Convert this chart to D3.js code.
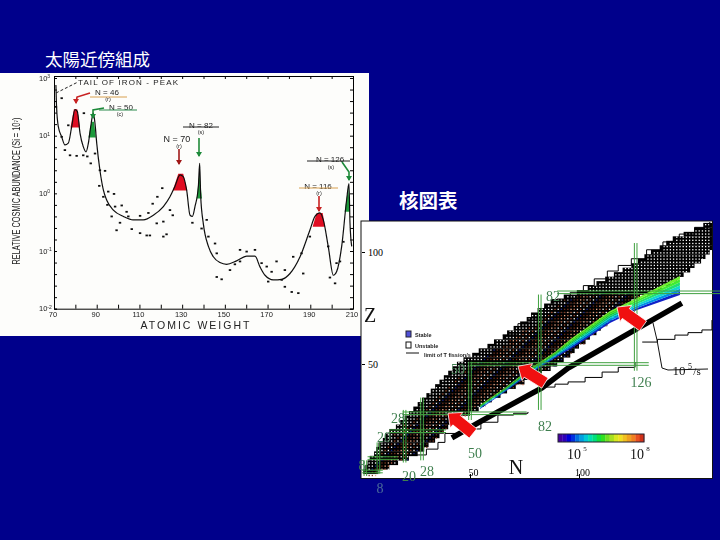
<!DOCTYPE html>
<meta charset="utf-8" />
<script src="https://d3js.org/d3.v7.min.js"></script>
<style>
  body { margin: 0; background: #00008b; overflow: hidden; }
  svg { display: block; }
  .mono { font-family: "Liberation Sans", sans-serif; fill: #222; }
  .serif { font-family: "Liberation Serif", serif; }
  .magic { font-family: "Liberation Serif", serif; font-size: 14px; fill: #3f7f4f; text-anchor: middle; }
</style>
<svg width="720" height="540"></svg>
<script>
  // abundance curve: atomic weight, log10 abundance
  var curveA = [70.9,71.2,72,73.6,75.1,76.7,78.3,79.8,80.9,82.2,83.7,85,86.1,87.2,88.4,89.2,90,91.5,93.1,94.7,97.8,102.5,107.1,111.8,116.5,121.2,124.3,126.6,129,130.5,132.1,133.7,134.8,136,137.6,138.2,138.7,139.9,142.3,144.6,147.7,150.8,155.5,160.2,164.1,166.4,168.8,172.7,176.6,180.5,185.2,189.8,192.2,194.5,196.1,198.4,200.8,202.3,204.7,207,208.1,208.6,209.4];
  var curveLog = [1.88,1.5,1.16,0.98,0.84,0.87,1.16,1.45,1.42,1.04,0.81,0.72,0.87,1.16,1.39,1.21,0.87,0.4,0.06,-0.12,-0.29,-0.4,-0.46,-0.46,-0.38,-0.23,-0.06,0.12,0.32,0.29,0.06,-0.38,-0.4,-0.23,0.12,0.52,-0.06,-0.52,-0.92,-1.1,-1.2,-1.23,-1.17,-1.09,-1.09,-1.27,-1.42,-1.5,-1.49,-1.39,-1.1,-0.64,-0.4,-0.34,-0.46,-0.92,-1.42,-1.36,-0.92,-0.12,0.17,-0.52,-0.92];
  var dotA = [70.9,73.6,76.7,84,73.6,75.1,77.5,80.6,83.7,85.6,87.2,89.2,91.5,93.9,91.2,93.1,95.4,98.1,95,98.6,101.7,104,97,100.9,104.8,99.3,106.4,110.3,113.4,114.9,121.2,122.7,110.3,114.2,116.2,118.4,120.7,118.1,121.2,124.3,125.6,134.8,141.5,139.1,142.3,145.4,146.2,146.2,148.5,152.4,154.7,157.1,157.1,160.2,164.1,167.2,169.6,171.9,174.2,170.3,176.6,178.1,182,185.9,186.7,178.1,181.3,184.4,189.8,198.4,199.2,201.6,202.3,203.9,205.5];
  var dotLog = [1.5,1.65,1.18,1.39,0.98,0.75,0.66,0.65,0.66,0.64,0.52,0.69,0.4,0.39,0.13,-0.06,0.03,-0.01,-0.2,-0.23,-0.21,-0.32,-0.4,-0.51,-0.4,-0.64,-0.62,-0.69,-0.73,-0.73,-0.75,-0.71,-0.39,-0.34,-0.18,-0.06,0.09,-0.52,-0.49,-0.29,-0.38,-0.51,-0.46,-0.61,-0.75,-0.87,-1.04,-1.45,-1.49,-1.33,-1.23,-1.18,-0.98,-1.01,-0.98,-1.21,-1.27,-1.36,-1.18,-1.53,-1.5,-1.33,-1.1,-1.04,-1.39,-1.62,-1.71,-1.73,-0.75,-0.92,-1.46,-1.56,-1.21,-1.18,-0.84];
  var peakColor = ["#e01020","#1f9a3a","#e01020","#1f9a3a","#e01020","#1f9a3a"];
  var peakA = [[77.7,79.3,80.9,82.2],[86.1,87.6,88.7,89.6],[125.6,128.2,130.5,132.4],[136.8,138,138,139.3],[191.1,193,195.8,196.9],[206.1,207.8,207.8,208.6]];
  var peakLog = [[1.14,1.46],[0.97,1.24],[0.05,0.34],[-0.09,0.35],[-0.58,-0.34],[-0.32,0.12]];
  var xTicks = [70,90,110,130,150,170,190,210];
  var yTickLogs = [2,1,0,-1,-2];
  var yTickSups = ["3","1","0","-1","-2"];

  // nuclide chart: proton number rows with first and last neutron number
  var rowZ = d3.range(2, 115, 2);
  var rowNLow = [1,2,3,4,6,7,8,10,11,13,16,18,20,22,24,26,28,30,32,34,36,38,40,42,44,47,51,54,58,61,65,67,70,73,76,78,81,84,87,93,99,104,108,112,116,120,124,127,130,133,137,140,143,148,153,157,161];
  var rowNHigh = [8,13,17,22,26,29,31,34,36,38,40,43,46,50,54,57,60,64,67,71,75,79,83,87,90,93,96,98,100,103,105,108,110,113,115,118,120,122,124,128,133,138,142,145,148,151,153,156,158,160,161,161,161,161,161,161,161];
  var stripN = [54.6,66,76.6,89,96.8,104,114.2,126.6,146.3];
  var stripZLow = [29.9,37.5,45,52.7,57.1,61.6,68.3,74.1,80.8];
  var stripZHigh = [31.7,39.3,47.3,55.4,61.6,66.5,73.7,79.5,89.3];
  var stripColors = ["#1020c8","#0090e8","#10d8d0","#20e070","#40ec30","#70f030"];
  var limitN = [41.7,53.7,62.8,83,95,125.7,147.2];
  var limitZ = [17,23.7,28.6,39.3,48.2,65.2,77.2];
  var stairs = [
    [[65,63],[72,68],[77.5,70.5],[84,75],[90,79],[96,82],[102,85],[107,88],[113,91.5],[118,94],[124,97],[131,101],[138.5,104.5],[146,108],[153,111],[160,114]],
    [[23.9,9.4],[30,12],[35.3,15],[38.5,19],[46,21],[55,24],[62.8,27.2],[70,28],[76.6,28.6]],
    [[83,39.7],[89,41],[95,42],[102.8,44],[110.6,46.4],[118,48.5],[125.7,50.9]],
    [[129,59.8],[136,61],[144,62.9],[150,64],[156.4,65.2],[161,69.6]]
  ];
  var magicZ = [82,50,28,20,8,2];
  var magicZFrom = [90,50,19,13,3,0.5];
  var magicZTo = [165,132,76,39,17,10];
  var magicN = [126,82,50,28,20,8,2];
  var magicNFrom = [47,29.5,25,7,6,1,0];
  var magicNTo = [104,81,51,35,29.5,15,7];
  var colorbar = ["#4400a0","#3000b8","#0000d8","#0030e0","#0070e0","#00a0e0","#00c8d8","#00e0b0","#00e080","#10e040","#30e020","#70e020","#a8e020","#d8e820","#f0e020","#f0c020","#f0a020","#f08020","#e85020","#d03018"];
  var zTicks = [100,50];
  var nTicks = [50,100];

  var svg = d3.select("svg");
  var defs = svg.append("defs");
  defs.append("filter").attr("id", "soft").append("feGaussianBlur").attr("stdDeviation", 0.45);
  defs.append("clipPath").attr("id", "panel").append("rect").attr("x", 362).attr("y", 222).attr("width", 350).attr("height", 256);

  svg.append("text").attr("x", 45).attr("y", 66).attr("fill", "#fff")
    .style("font", "17.5px 'Noto Sans CJK JP'").text("太陽近傍組成");
  svg.append("text").attr("x", 399).attr("y", 208).attr("fill", "#fff")
    .style("font", "bold 19.5px 'Noto Sans CJK JP'").text("核図表");

  // ---- left chart ----
  svg.append("rect").attr("x", 0).attr("y", 73).attr("width", 369).attr("height", 263).attr("fill", "#fdfdfb");
  var g = svg.append("g").attr("filter", "url(#soft)");
  var x = d3.scaleLinear().domain([70, 210]).range([54, 353]);
  var y = d3.scaleLinear().domain([-2, 2]).range([308.7, 78]);

  var minorX = d3.range(70, 211, 10);
  g.append("g").attr("transform", "translate(0,308.7)").call(d3.axisBottom(x).tickValues(minorX).tickSize(-4).tickFormat(""));
  g.append("g").attr("transform", "translate(0,76)").call(d3.axisTop(x).tickValues(minorX).tickSize(-3).tickFormat(""));
  var minorY = d3.range(-2, 2.01, 0.2);
  g.append("g").attr("transform", "translate(54,0)").call(d3.axisLeft(y).tickValues(minorY).tickSize(-3).tickFormat(""));
  g.append("g").attr("transform", "translate(353,0)").call(d3.axisRight(y).tickValues(minorY).tickSize(-3).tickFormat(""));

  g.selectAll(".xt").data(xTicks).enter().append("text").attr("class", "mono")
    .attr("x", function (d) { return x(d) - 1; }).attr("y", 317).attr("text-anchor", "middle")
    .style("font-size", "7.5px").text(function (d) { return d; });
  var yt = g.selectAll(".yt").data(yTickLogs).enter().append("text").attr("class", "mono")
    .attr("x", 39).attr("y", function (d) { return y(d) + 2.5; }).style("font-size", "7.5px");
  yt.append("tspan").text("10");
  yt.append("tspan").attr("dy", -2.5).style("font-size", "5px").text(function (d, i) { return yTickSups[i]; });

  g.append("text").attr("class", "mono").attr("x", 195).attr("y", 329).attr("text-anchor", "middle")
    .attr("textLength", 109).style("font-size", "10.5px").text("ATOMIC WEIGHT");
  g.append("text").attr("class", "mono").attr("transform", "translate(20,191) rotate(-90)")
    .attr("text-anchor", "middle").attr("textLength", 147).attr("lengthAdjust", "spacingAndGlyphs")
    .style("font-size", "10px").text("RELATIVE COSMIC ABUNDANCE (Si = 10⁷)");

  peakA.forEach(function (a, i) {
    var pts = [[a[0], peakLog[i][0]], [a[1], peakLog[i][1]], [a[2], peakLog[i][1]], [a[3], peakLog[i][0]]];
    g.append("polygon").attr("fill", peakColor[i])
      .attr("points", pts.map(function (p) { return [x(p[0]), y(p[1])].join(","); }).join(" "));
  });

  var curve = d3.line().x(function (d) { return x(d[0]); }).y(function (d) { return y(d[1]); }).curve(d3.curveMonotoneX);
  g.append("path").datum(d3.zip(curveA, curveLog)).attr("d", curve).attr("fill", "none").attr("stroke", "#111").attr("stroke-width", 1.2);
  g.selectAll(".dot").data(d3.zip(dotA, dotLog)).enter().append("rect").attr("class", "dot")
    .attr("x", function (d) { return x(d[0]) - 1.2; }).attr("y", function (d) { return y(d[1]) - 0.9; })
    .attr("width", 2.4).attr("height", 1.8).attr("fill", "#111");

  function pointer(pts, color) {
    g.append("path").attr("d", d3.line().curve(d3.curveLinear)(pts)).attr("fill", "none").attr("stroke", color).attr("stroke-width", 1.6);
    var e = pts[pts.length - 1];
    g.append("polygon").attr("fill", color).attr("points", [[e[0] - 3, e[1] - 4], [e[0] + 3, e[1] - 4], [e[0], e[1] + 1]].join(" "));
  }
  function label(tx, ty, size, text, anchor) {
    return g.append("text").attr("class", "mono").attr("x", tx).attr("y", ty).attr("text-anchor", anchor || "middle")
      .style("font-size", size + "px").text(text);
  }
  g.append("path").attr("d", "M56,93L78,82").attr("stroke", "#222").attr("stroke-dasharray", "3,2").attr("fill", "none");
  label(78, 85, 8, "TAIL OF IRON  -  PEAK", "start").attr("textLength", 100);
  label(107, 95, 8, "N = 46"); label(108, 101, 5.5, "(r)");
  label(121, 110, 8, "N = 50"); label(120, 116, 5.5, "(c)");
  label(201, 128, 8, "N = 82"); label(201, 134, 5.5, "(s)");
  label(177, 142, 9, "N = 70"); label(179, 148, 5.5, "(r)");
  label(330, 162, 8, "N = 126"); label(331, 169, 5.5, "(s)");
  label(318, 189, 8, "N = 116"); label(319, 195, 5.5, "(r)");
  [[90,127,97,"#d8a050"],[99,137,110,"#2a8a4a"],[183,219,127,"#222"],[307,350,161,"#222"],[299,338,188,"#d8a050"]].forEach(function (u) {
    g.append("line").attr("x1", u[0]).attr("x2", u[1]).attr("y1", u[2]).attr("y2", u[2]).attr("stroke", u[3]);
  });
  pointer([[90,93],[77,97],[76,103]], "#c82020");
  pointer([[104,108],[93,110],[93,118]], "#1f8a3a");
  pointer([[199,138],[199,156]], "#1f8a3a");
  pointer([[179,149],[179,164]], "#a01818");
  pointer([[342,162],[349,172],[349,180]], "#1f8a3a");
  pointer([[319,196],[319,211]], "#c82020");

  // ---- nuclide chart ----
  svg.append("rect").attr("x", 361).attr("y", 221).attr("width", 351.5).attr("height", 257.5)
    .attr("fill", "#fff").attr("stroke", "#111");
  var h = svg.append("g").attr("clip-path", "url(#panel)");
  var nx = d3.scaleLinear().domain([0, 100]).range([361, 579]);
  var zy = d3.scaleLinear().domain([0, 100]).range([476, 252]);

  var az = svg.append("g").attr("transform", "translate(362,0)").call(d3.axisLeft(zy).tickValues(zTicks).tickSize(-3));
  az.select(".domain").remove();
  az.selectAll("text").attr("text-anchor", "start").attr("x", 6).style("font", "10px 'Liberation Serif'");
  var an = svg.append("g").attr("transform", "translate(0,478)").call(d3.axisBottom(nx).tickValues(nTicks).tickSize(-4));
  an.select(".domain").remove();
  an.selectAll("text").attr("y", -2).attr("dy", 0).attr("dx", 3).style("font", "10px 'Liberation Serif'");

  // stable band: black cells with a coloured hole in each
  var holePalette = ["#fff", "#c87050", "#6a3020", "#a85030", "#f0b090", "#1a2a90", "#fff", "#803820"];
  rowZ.forEach(function (z, i) {
    h.append("rect").attr("x", nx(rowNLow[i])).attr("y", zy(z + 1))
      .attr("width", nx(rowNHigh[i]) - nx(rowNLow[i])).attr("height", zy(z - 1) - zy(z + 1) + 0.3).attr("fill", "#000");
  });
  d3.range(0.5, 116, 1.4).forEach(function (gz, j) {
    var i = Math.min(rowZ.length - 1, Math.max(0, Math.round(gz / 2) - 1));
    d3.range(0.5, 162, 1.47).forEach(function (gn, k) {
      if (gn < rowNLow[i] + 0.3 || gn > rowNHigh[i] - 0.6) return;
      var t = (gn - rowNLow[i]) / (rowNHigh[i] - rowNLow[i]);
      var col = (rowZ[i] > 82 || t < 0.15) ? "#fff" : holePalette[(k * 5 + j * 3) % holePalette.length];
      h.append("rect").attr("x", nx(gn)).attr("y", zy(gz)).attr("width", 1.3).attr("height", 1.3).attr("fill", col);
    });
  });

  // r-process strip, coloured layer by layer
  stripColors.forEach(function (c, i) {
    var f0 = i / stripColors.length, f1 = (i + 1) / stripColors.length;
    h.append("path").datum(d3.range(stripN.length)).attr("fill", c)
      .attr("d", d3.area().x(function (j) { return nx(stripN[j]); })
        .y0(function (j) { return zy(stripZLow[j] + (stripZHigh[j] - stripZLow[j]) * f0); })
        .y1(function (j) { return zy(stripZLow[j] + (stripZHigh[j] - stripZLow[j]) * f1); }));
  });

  h.append("path").datum(d3.zip(limitN, limitZ)).attr("fill", "none").attr("stroke", "#000").attr("stroke-width", 5.5)
    .attr("d", d3.line().x(function (d) { return nx(d[0]); }).y(function (d) { return zy(d[1]); }));

  var stairLine = d3.line().x(function (d) { return nx(d[0]); }).y(function (d) { return zy(d[1]); }).curve(d3.curveStepAfter);
  stairs.forEach(function (s) {
    h.append("path").attr("d", stairLine(s)).attr("fill", "none").attr("stroke", "#000");
  });

  function greenLine(parent, x1, y1, x2, y2) {
    parent.append("line").attr("x1", x1).attr("y1", y1).attr("x2", x2).attr("y2", y2)
      .attr("stroke", "#3fa03f").attr("stroke-width", 1);
  }
  magicZ.forEach(function (z, i) {
    [-1.3, 1.3].forEach(function (o) {
      greenLine(svg, nx(magicZFrom[i]), zy(z) + o, Math.min(nx(magicZTo[i]), 720), zy(z) + o);
    });
  });
  magicN.forEach(function (n, i) {
    [-1.3, 1.3].forEach(function (o) {
      greenLine(svg, nx(n) + o, zy(magicNTo[i]), nx(n) + o, zy(magicNFrom[i]));
    });
  });

  // red block arrows from tail to tip, in N and Z
  [[[51.4,19],[39.9,28]], [[84.4,41.5],[72,49]], [[129.4,67],[117.4,75.4]]].forEach(function (a) {
    var tx = nx(a[0][0]), ty = zy(a[0][1]), px = nx(a[1][0]), py = zy(a[1][1]);
    var len = Math.hypot(px - tx, py - ty), ux = (px - tx) / len, uy = (py - ty) / len, vx = -uy, vy = ux;
    var bx = px - ux * 11, by = py - uy * 11;
    var pts = [[tx + vx * 6, ty + vy * 6], [bx + vx * 6, by + vy * 6], [bx + vx * 10, by + vy * 10], [px, py],
      [bx - vx * 10, by - vy * 10], [bx - vx * 6, by - vy * 6], [tx - vx * 6, ty - vy * 6]];
    svg.append("polygon").attr("points", pts.join(" ")).attr("fill", "#f01010").attr("stroke", "#fff").attr("stroke-width", 0.8);
  });

  [[553,301,"82"],[458,374,"50"],[641,387,"126"],[545,431,"82"],[398,423,"28"],[384,442,"20"],[475,458,"50"],[427,476,"28"],[409,481,"20"],[362,470,"8"]].forEach(function (m) {
    svg.append("text").attr("class", "magic").attr("x", m[0]).attr("y", m[1]).text(m[2]);
  });
  svg.append("text").attr("class", "magic").attr("x", 380).attr("y", 493).style("fill", "#4a6a9a").text("8");

  var serif = function (tx, ty, size, text, fill) {
    return svg.append("text").attr("class", "serif").attr("x", tx).attr("y", ty).attr("text-anchor", "middle")
      .attr("fill", fill || "#111").style("font-size", size + "px").text(text);
  };
  serif(370, 322, 20, "Z");
  serif(516, 474, 20, "N");

  // colour bar
  var cb = d3.scaleBand().domain(d3.range(colorbar.length)).range([558, 644]);
  svg.selectAll(".cb").data(colorbar).enter().append("rect").attr("class", "cb")
    .attr("x", function (d, i) { return cb(i); }).attr("y", 434).attr("width", cb.bandwidth() + 0.3).attr("height", 8)
    .attr("fill", function (d) { return d; });
  svg.append("rect").attr("x", 558).attr("y", 434).attr("width", 86).attr("height", 8).attr("fill", "none").attr("stroke", "#223");
  serif(574, 459, 14, "10"); serif(585, 451, 7, "5");
  serif(637, 459, 14, "10"); serif(648, 451, 7, "8");

  // limit of the lifetime line and its label
  svg.append("path").attr("d", "M653,323L657,340L662,368L668,370L708,369").attr("fill", "none").attr("stroke", "#111");
  serif(679, 375, 13, "10"); serif(690, 369, 8, "5"); serif(697, 375, 11, "/s");

  // legend
  svg.append("rect").attr("x", 406).attr("y", 331).attr("width", 5).attr("height", 6).attr("fill", "#5050d8").attr("stroke", "#223");
  svg.append("rect").attr("x", 406).attr("y", 342).attr("width", 5).attr("height", 6).attr("fill", "#fff").attr("stroke", "#111");
  svg.append("path").attr("d", "M406,353L419,353").attr("stroke", "#111");
  [[415,337,"Stable"],[415,348,"Unstable"],[424,357,"limit of T fission/s"]].forEach(function (l) {
    svg.append("text").attr("class", "mono").attr("x", l[0]).attr("y", l[1]).style("font-size", "5.5px").style("font-weight", "bold").text(l[2]);
  });
</script>
